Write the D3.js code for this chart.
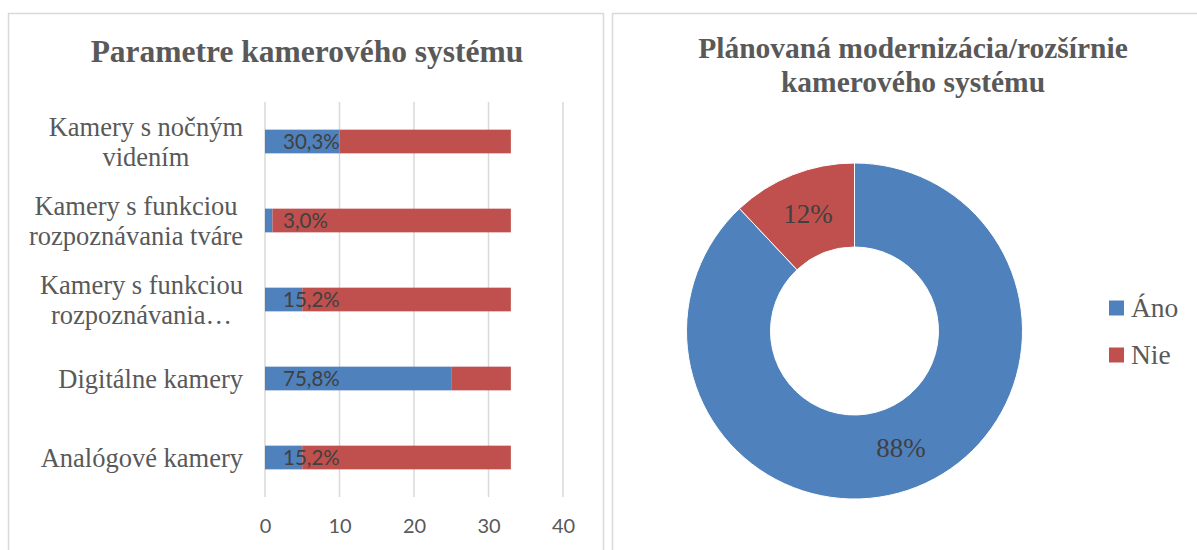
<!DOCTYPE html>
<html><head><meta charset="utf-8">
<script src="https://cdn.jsdelivr.net/npm/d3@7"></script>
<style>body{margin:0;background:#fff;} svg{display:block}</style>
</head><body><svg id="c" width="1197" height="550"></svg>
<script>
// ---- data ----
const barCategories = ["Kamery s nočným\nvidením", "Kamery s funkciou\nrozpoznávania tváre", "Kamery s funkciou\nrozpoznávania…", "Digitálne kamery", "Analógové kamery"];
const anoCounts = [10, 1, 5, 25, 5];
const nieCounts = [23, 32, 28, 8, 28];
const pctLabels = ["30,3%", "3,0%", "15,2%", "75,8%", "15,2%"];
const xTicks = [0, 10, 20, 30, 40];
const pieLabels = ["Áno", "Nie"];
const pieValues = [88, 12];
const pieTextLabels = ["88%", "12%"];

const blue = "#4f81bd", red = "#c0504d";
const serif = "'Liberation Serif','Times New Roman',serif";
const sans = "Lato,'Open Sans',sans-serif";
const svg = d3.select("#c");

// panels
svg.append("rect").attr("x", 8.5).attr("y", 13.5).attr("width", 595).attr("height", 560)
  .attr("fill", "#fff").attr("stroke", "#d9d9d9").attr("stroke-width", 1.5);
svg.append("rect").attr("x", 612.5).attr("y", 13.5).attr("width", 600).attr("height", 560)
  .attr("fill", "#fff").attr("stroke", "#d9d9d9").attr("stroke-width", 1.5);

// ---- bar chart ----
const x = d3.scaleLinear().domain([0, 40]).range([265, 563]);
const y = d3.scaleBand().domain(barCategories).range([102, 497]).paddingInner(0.7).paddingOuter(0.35);

svg.append("text").attr("x", 307).attr("y", 62).attr("text-anchor", "middle")
  .attr("font-family", serif).attr("font-weight", "bold").attr("font-size", 31.5)
  .attr("fill", "#595959").text("Parametre kamerového systému");

const g = svg.append("g");
g.selectAll("line.grid").data(xTicks).join("line").attr("class", "grid")
  .attr("x1", d => x(d)).attr("x2", d => x(d)).attr("y1", 102).attr("y2", 497)
  .attr("stroke", "#d9d9d9").attr("stroke-width", 1.5);

const xAxis = d3.axisBottom(x).tickValues(xTicks).tickSize(0).tickPadding(0);
const ax = g.append("g").attr("transform", "translate(0,533)").call(xAxis);
ax.select(".domain").remove();
ax.selectAll("text").attr("font-family", sans).attr("font-size", 20).attr("fill", "#595959").attr("dy", 0).attr("y", 0);

const stackData = barCategories.map((c, i) => ({cat: c, ano: anoCounts[i], nie: nieCounts[i]}));
const series = d3.stack().keys(["ano", "nie"])(stackData);
g.selectAll("g.s").data(series).join("g").attr("fill", (d, i) => i === 0 ? blue : red)
  .selectAll("rect").data(d => d).join("rect")
  .attr("x", d => x(d[0])).attr("width", d => x(d[1]) - x(d[0]))
  .attr("y", d => y(d.data.cat)).attr("height", y.bandwidth());

g.selectAll("text.pct").data(barCategories).join("text").attr("class", "pct")
  .attr("x", x(0) + 18).attr("y", d => y(d) + y.bandwidth() / 2 + 7.5)
  .attr("font-family", sans).attr("font-size", 20.5).attr("fill", "#404040")
  .text((d, i) => pctLabels[i]);

const catG = g.selectAll("text.cat").data(barCategories).join("text").attr("class", "cat")
  .attr("font-family", serif).attr("font-size", 26.5).attr("fill", "#595959")
  .attr("text-anchor", "middle");
catG.each(function(d) {
  const lines = d.split("\n");
  const t = d3.select(this);
  const cy = y(d) + y.bandwidth() / 2;
  const tmp = svg.append("text").attr("font-family", serif).attr("font-size", 26.5);
  let w = 0;
  lines.forEach(l => { tmp.text(l); w = Math.max(w, tmp.node().getComputedTextLength()); });
  tmp.remove();
  const cx = 243 - w / 2;
  const lh = 30;
  const y0 = cy + 9 - (lines.length - 1) * lh / 2;
  lines.forEach((l, k) => t.append("tspan").attr("x", cx).attr("y", y0 + k * lh).text(l));
});

// ---- donut ----
const cx = 854.5, cy = 331, R = 168, r = 84;
svg.append("text").attr("text-anchor", "middle").attr("font-family", serif)
  .attr("font-weight", "bold").attr("font-size", 29.5).attr("fill", "#595959")
  .selectAll("tspan").data(["Plánovaná modernizácia/rozšírnie", "kamerového systému"]).join("tspan")
  .attr("x", 913).attr("y", (d, i) => 58 + i * 34).text(d => d);

const pie = d3.pie().sort(null).value(d => d)(pieValues);
const arc = d3.arc().innerRadius(r).outerRadius(R);
const labelArc = d3.arc().innerRadius((R + r) / 2).outerRadius((R + r) / 2);
const pg = svg.append("g").attr("transform", `translate(${cx},${cy})`);
pg.selectAll("path").data(pie).join("path").attr("d", arc)
  .attr("fill", (d, i) => i === 0 ? blue : red).attr("stroke", "#fff").attr("stroke-width", 1);
pg.selectAll("text").data(pie).join("text")
  .attr("transform", d => `translate(${labelArc.centroid(d)})`)
  .attr("text-anchor", "middle").attr("dy", 9)
  .attr("font-family", serif).attr("font-size", 27).attr("fill", "#404040")
  .text((d, i) => pieTextLabels[i]);

// legend
const lg = svg.append("g");
pieLabels.forEach((l, i) => {
  const ly = 308 + i * 47;
  lg.append("rect").attr("x", 1109).attr("y", ly - 7.5).attr("width", 15).attr("height", 15)
    .attr("fill", i === 0 ? blue : red);
  lg.append("text").attr("x", 1131).attr("y", ly + 9).attr("font-family", serif)
    .attr("font-size", 27.5).attr("fill", "#595959").text(l);
});
</script></body></html>
